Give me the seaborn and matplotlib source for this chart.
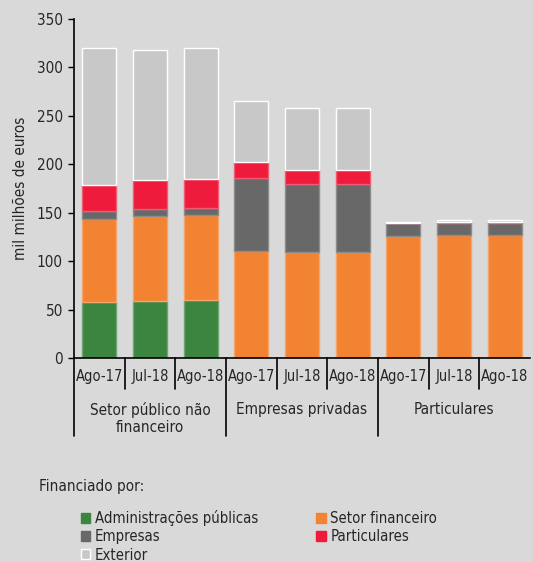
import matplotlib
matplotlib.use("Agg")
import matplotlib.pyplot as plt
import matplotlib.patches as mpatches
import seaborn as sns
import numpy as np
import pandas as pd

# data (mil milhões de euros)
groups = ["Setor público não\nfinanceiro", "Empresas privadas", "Particulares"]
periods = ["Ago-17", "Jul-18", "Ago-18"]

adm_publicas = [58, 59, 60, 0, 0, 0, 0, 0, 0]
setor_financeiro = [86, 87.5, 87.5, 110.5, 109, 109, 125.5, 126.5, 126.5]
empresas = [8, 7.5, 7.5, 75.5, 71, 70.5, 13.5, 12.5, 13]
particulares = [27, 30, 30, 16, 14.5, 15, 0.7, 1.4, 0.7]
exterior = [141, 134.5, 135, 63, 63.5, 63.5, 1.0, 1.7, 2.0]

series_names = ["Administrações públicas", "Setor financeiro", "Empresas",
                "Particulares", "Exterior"]
colors = ["#3C8541", "#F28332", "#686868", "#EE1B3C", "#C8C8C8"]
edges = ["#6FA474", "#F6A469", "#8C8C8C", "#F25A72", "white"]

keys = [f"{g}|{p}" for g in groups for p in periods]
df = pd.DataFrame({
    "key": keys,
    "Administrações públicas": adm_publicas,
    "Setor financeiro": setor_financeiro,
    "Empresas": empresas,
    "Particulares": particulares,
    "Exterior": exterior,
})

sns.set_style("white")
plt.rcParams["font.family"] = ["DejaVu Sans"]
plt.rcParams["font.stretch"] = "condensed"
bg = "#D9D9D9"

fig = plt.figure(figsize=(5.33, 5.62), dpi=100, facecolor=bg)
ax = fig.add_axes([74 / 533, 1 - 358 / 562, 456 / 533, 339 / 562])
ax.set_facecolor(bg)

# stacked bars, one seaborn call per series
bottom = np.zeros(len(df))
for name, col, ec in zip(series_names, colors, edges):
    sns.barplot(data=df, x="key", y=name, order=keys, color=col, saturation=1,
                errorbar=None, width=0.67, bottom=bottom, edgecolor=ec,
                linewidth=1.0, ax=ax)
    bottom = bottom + df[name].values

ax.set_xlim(-0.5, 8.5)
ax.set_ylim(0, 350)
ax.set_yticks(np.arange(0, 351, 50))
ax.tick_params(axis="y", direction="out", length=4, width=1, color="black",
               labelsize=11, pad=4, left=True)
ax.set_xticks([])
ax.set_xlabel("")
ax.set_ylabel("mil milhões de euros", fontsize=11, labelpad=6)
for s in ["top", "right"]:
    ax.spines[s].set_visible(False)
for s in ["left", "bottom"]:
    ax.spines[s].set_color("black")
    ax.spines[s].set_linewidth(1.2)

# category labels and separators below the axis
trans = ax.get_xaxis_transform()
for i, k in enumerate(keys):
    ax.text(i, -0.055, k.split("|")[1], transform=trans, ha="center",
            va="center", fontsize=10.5)
for b in np.arange(-0.5, 8.5, 1):
    depth = -0.23 if b in (-0.5, 2.5, 5.5) else -0.09
    ax.plot([b, b], [0, depth], transform=trans, color="black", lw=1.2,
            clip_on=False)
for j, g in enumerate(groups):
    ax.text(3 * j + 1, -0.13, g, transform=trans, ha="center", va="top",
            fontsize=11, linespacing=1.15)

fig.text(39 / 533, 1 - 486 / 562, "Financiado por:", fontsize=11,
         ha="left", va="center")

handles = [mpatches.Patch(facecolor=c, edgecolor=(e if n == "Exterior" else c),
                          label=n)
           for n, c, e in zip(series_names, colors, edges)]
order = [0, 2, 4, 1, 3]
fig.legend([handles[i] for i in order], [series_names[i] for i in order],
           ncol=2, loc="upper left", bbox_to_anchor=(81 / 533, 1 - 510 / 562),
           frameon=False, fontsize=10.7, handlelength=0.62, handleheight=0.62,
           handletextpad=0.33, labelspacing=0.22, columnspacing=3.9,
           borderpad=0, borderaxespad=0)

fig.savefig("out.png", dpi=100, facecolor=bg)
